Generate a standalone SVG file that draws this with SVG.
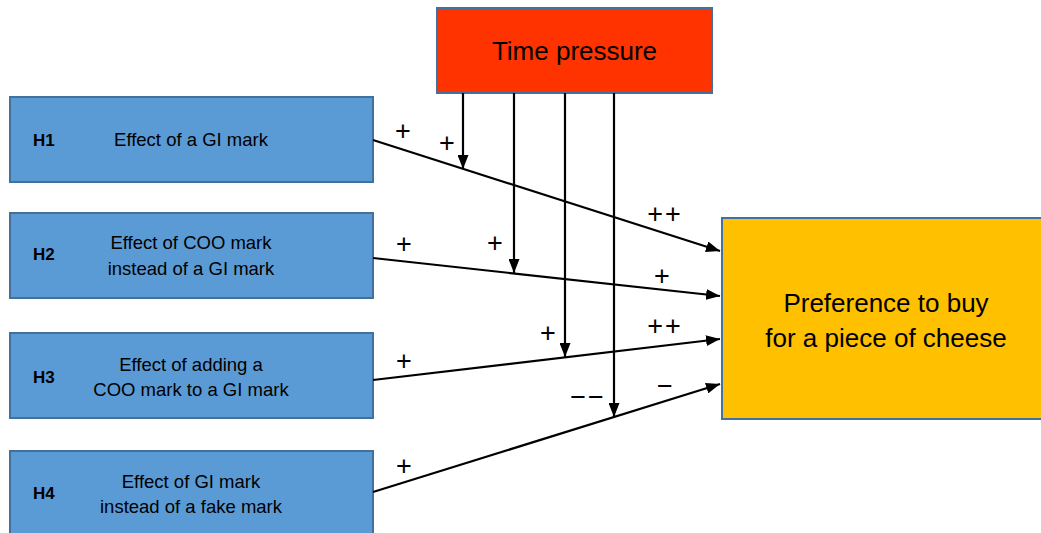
<svg xmlns="http://www.w3.org/2000/svg" width="1041" height="533" viewBox="0 0 1041 533">
<defs>
<marker id="ah" markerWidth="14" markerHeight="11" refX="14" refY="5.5" orient="auto" markerUnits="userSpaceOnUse">
<path d="M0,0 L14,5.5 L0,11 z" fill="#000"/>
</marker>
<style>
.hb{fill:#5B9BD5;stroke:#41719C;stroke-width:2}
.t{font-family:"Liberation Sans",Arial,sans-serif;fill:#000}
.bt{font-size:18.5px;text-anchor:middle}
.hl{font-size:17px;font-weight:bold}
.big{font-size:26px;text-anchor:middle}
.sg{font-size:27px;text-anchor:middle;font-weight:300}
.c line{stroke:#000;stroke-width:2.2}
</style>
</defs>
<g id="time">
<rect x="437" y="8" width="275" height="85" fill="#FF3300" stroke="#41719C" stroke-width="2"/>
<text class="t big" x="574.5" y="60">Time pressure</text>
</g>
<g id="pref">
<rect x="722" y="218" width="322" height="201" fill="#FFC000" stroke="#41719C" stroke-width="2"/>
<text class="t big" x="886" y="312">Preference to buy</text>
<text class="t big" x="886" y="347">for a piece of cheese</text>
</g>
<g id="h1">
<rect class="hb" x="10" y="97" width="363" height="85"/>
<text class="t hl" x="33" y="146">H1</text>
<text class="t bt" x="191" y="146">Effect of a GI mark</text>
</g>
<g id="h2">
<rect class="hb" x="10" y="213" width="363" height="85"/>
<text class="t hl" x="33" y="260">H2</text>
<text class="t bt" x="191" y="249">Effect of COO mark</text>
<text class="t bt" x="191" y="275">instead of a GI mark</text>
</g>
<g id="h3">
<rect class="hb" x="10" y="333" width="363" height="85"/>
<text class="t hl" x="33" y="383">H3</text>
<text class="t bt" x="191" y="371">Effect of adding a</text>
<text class="t bt" x="191" y="396">COO mark to a GI mark</text>
</g>
<g id="h4">
<rect class="hb" x="10" y="451" width="363" height="90"/>
<text class="t hl" x="33" y="499">H4</text>
<text class="t bt" x="191" y="488">Effect of GI mark</text>
<text class="t bt" x="191" y="513">instead of a fake mark</text>
</g>
<g id="connectors" class="c">
<line x1="373" y1="140" x2="720" y2="251" marker-end="url(#ah)"/>
<line x1="373" y1="258" x2="720" y2="296" marker-end="url(#ah)"/>
<line x1="373" y1="380" x2="720" y2="339" marker-end="url(#ah)"/>
<line x1="373" y1="492" x2="720" y2="384" marker-end="url(#ah)"/>
<line x1="463" y1="93" x2="463" y2="169" marker-end="url(#ah)"/>
<line x1="514" y1="93" x2="514" y2="273" marker-end="url(#ah)"/>
<line x1="565" y1="93" x2="565" y2="357" marker-end="url(#ah)"/>
<line x1="614" y1="93" x2="614" y2="417" marker-end="url(#ah)"/>
</g>
<g id="signs" class="t sg">
<text x="403" y="140">+</text>
<text x="447" y="152">+</text>
<text x="665" y="223" letter-spacing="2">++</text>
<text x="404" y="253">+</text>
<text x="495" y="252">+</text>
<text x="662" y="285">+</text>
<text x="404" y="370">+</text>
<text x="548" y="342">+</text>
<text x="665" y="335" letter-spacing="2">++</text>
<text x="404" y="475">+</text>
<text x="588" y="406" letter-spacing="2">−−</text>
<text x="665" y="395">−</text>
</g>
</svg>
